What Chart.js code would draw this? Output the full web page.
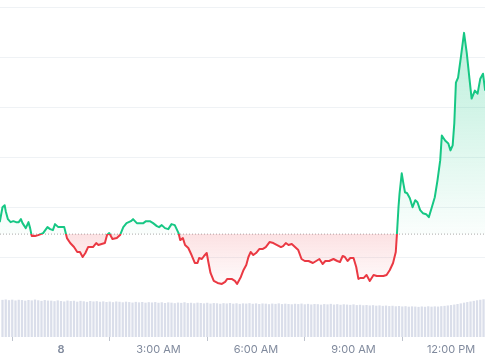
<!DOCTYPE html>
<html><head><meta charset="utf-8">
<script src="https://cdn.jsdelivr.net/npm/chart.js@4.4.1/dist/chart.umd.min.js"></script>
<style>html,body{margin:0;padding:0;background:#fff;overflow:hidden}canvas{display:block}</style>
</head><body>
<canvas id="c" width="485" height="360"></canvas>
<script>
// minutes relative to midnight ("8")
const times = [-113,-108,-104,-102,-98,-93,-88,-83,-78,-74,-71,-65,-60,-57,-54,-48,-42,-33,-25,-20,-15,-11,-5,1,6,11,17,24,30,35,40,45,50,59,65,69,75,81,85,89,95,103,109,
115,121,129,133,140,146,152,157,164,170,177,181,186,192,198,204,210,217,220,225,229,235,241,247,252,255,260,264,269,272,276,282,289,297,303,307,315,321,325,332,
337,342,346,350,355,360,366,372,378,385,392,399,406,410,415,420,426,432,438,444,450,457,465,471,477,483,488,495,503,510,515,520,524,529,534,540,545,549,553,559,
564,570,577,583,595,601,607,613,618,620,623,625,629,632,635,639,644,649,654,658,663,668,674,679,684,690,695,700,703,709,715,719,723,726,729,733,738,744,749,754,758,764,769,774,779,783,787];
const prices = [1035,1050,1052,1046,1038,1035,1036,1035,1035,1038,1034,1029,1035,1029,1021,1021,1022,1024,1030,1028,1027,1033,1030,1030,1030,1019,1014,1010,1005,1005,1000,1004,1010,1010,1014,1012,1013,1014,1022,1024,1018,1019,1022,
1030,1034,1036,1038,1034,1034,1034,1036,1036,1034,1031,1030,1032,1029,1028,1033,1032,1024,1017,1019,1012,1009,1002,994,994,999,998,1001,1004,995,984,976,974,973,975,978,978,976,973,980,
987,992,1000,1005,1002,1004,1008,1008,1010,1015,1014,1012,1010,1011,1014,1012,1013,1010,1007,998,996,996,994,996,998,993,996,996,998,996,995,1001,1000,996,999,999,990,978,979,979,
982,976,982,981,981,982,987,994,1005,1022,1050,1064,1084,1074,1065,1064,1059,1050,1057,1055,1047,1044,1043,1040,1049,1060,1077,1097,1122,1117,1114,1107,1112,1134,1175,1180,1200,1225,1205,1179,1159,1167,1164,1179,1184,1167,1162];
const BASE = 1023;
const volStart = -108, volStep = 6;
const volumes = [368,372,365,370,362,369,366,360,367,363,371,364,358,366,361,
360,355,363,357,352,361,356,359,350,358,354,348,357,352,355,349,
353,347,351,345,352,349,344,350,346,341,348,343,347,340,345,
342,346,339,344,337,343,340,335,341,338,344,336,339,334,340,
337,333,339,331,336,334,329,335,332,337,330,334,328,333,331,
335,329,333,327,332,330,325,331,328,333,326,330,327,324,329,
326,331,324,328,322,327,325,320,326,323,328,321,325,319,324,
321,318,323,316,319,314,317,312,315,310,313,308,311,306,309,
304,307,302,305,300,303,301,298,302,299,304,300,303,301,305,
308,312,316,321,327,333,340,346,352,358,364,369,374,378];
const tickValues = [0,180,360,540,720];
const tickLabels = ['8','3:00 AM','6:00 AM','9:00 AM','12:00 PM'];
const gridValues = [1000,1050,1100,1150,1200,1250];
const X_MIN = -112.6, X_MAX = 782.7, Y_MIN = 919.7, Y_MAX = 1258.0, V_MAX = 3370;

const GREEN = 'rgb(22,199,132)', RED = 'rgb(234,57,67)';
const linePts = times.map((t,i)=>({x:t,y:prices[i]}));
const volPts = volumes.map((v,i)=>({x:volStart+i*volStep,y:v}));

function baseFrac(chart){
  const a = chart.chartArea;
  const yb = chart.scales.y.getPixelForValue(BASE);
  return Math.max(0,Math.min(1,(yb-a.top)/(a.bottom-a.top)));
}
function lineColor(ctx){
  const chart = ctx.chart, a = chart.chartArea;
  if(!a) return GREEN;
  const t = baseFrac(chart);
  const g = chart.ctx.createLinearGradient(0,a.top,0,a.bottom);
  g.addColorStop(0,GREEN); g.addColorStop(t,GREEN);
  g.addColorStop(t,RED); g.addColorStop(1,RED);
  return g;
}
function fillColor(ctx){
  const chart = ctx.chart, a = chart.chartArea;
  if(!a) return 'rgba(0,0,0,0)';
  const t = baseFrac(chart);
  const g = chart.ctx.createLinearGradient(0,a.top,0,a.bottom);
  g.addColorStop(0,'rgba(22,199,132,0.30)');
  g.addColorStop(t*0.45,'rgba(22,199,132,0.20)');
  g.addColorStop(t,'rgba(22,199,132,0.02)');
  g.addColorStop(t,'rgba(234,57,67,0.15)');
  g.addColorStop(Math.min(1,t+0.17),'rgba(234,57,67,0.0)');
  g.addColorStop(1,'rgba(234,57,67,0.0)');
  return g;
}

new Chart(document.getElementById('c'),{
  type:'line',
  data:{datasets:[
    {type:'line',data:linePts,borderColor:lineColor,backgroundColor:fillColor,fill:{value:BASE},
     borderWidth:2,pointRadius:0,tension:0,borderJoinStyle:'round',yAxisID:'y',order:1},
    {type:'line',data:[{x:X_MIN,y:BASE},{x:X_MAX,y:BASE}],borderColor:'rgb(170,170,170)',borderWidth:1,
     borderDash:[1,2],pointRadius:0,fill:false,yAxisID:'y',order:2},
    {type:'bar',data:volPts,backgroundColor:'rgb(218,222,234)',barThickness:1.6,yAxisID:'y2',order:3}
  ]},
  options:{
    responsive:false,animation:false,
    layout:{padding:0},
    plugins:{legend:{display:false},tooltip:{enabled:false}},
    scales:{
      x:{type:'linear',min:X_MIN,max:X_MAX,offset:false,
        afterBuildTicks:(s)=>{s.ticks=tickValues.map(v=>({value:v}));},
        afterFit:(s)=>{s.height=23;},
        border:{display:false},
        grid:{drawOnChartArea:false,drawTicks:true,tickLength:4,color:'rgb(190,195,205)'},
        ticks:{autoSkip:false,maxRotation:0,padding:2,color:'rgb(128,138,157)',
          font:(c)=>({family:'Inter',size:11,weight:(c.tick&&c.tick.value===0)?'600':'400'}),
          callback:(v)=>{const i=tickValues.indexOf(v);return i>=0?tickLabels[i]:'';}}
      },
      y:{type:'linear',min:Y_MIN,max:Y_MAX,position:'left',
        afterBuildTicks:(s)=>{s.ticks=gridValues.map(v=>({value:v}));},
        afterFit:(s)=>{s.width=0;},
        border:{display:false},
        grid:{color:'rgb(239,242,245)',drawTicks:false,lineWidth:1},
        ticks:{display:false}
      },
      y2:{type:'linear',min:0,max:V_MAX,display:false,position:'right'}
    }
  }
});
</script>
</body></html>
